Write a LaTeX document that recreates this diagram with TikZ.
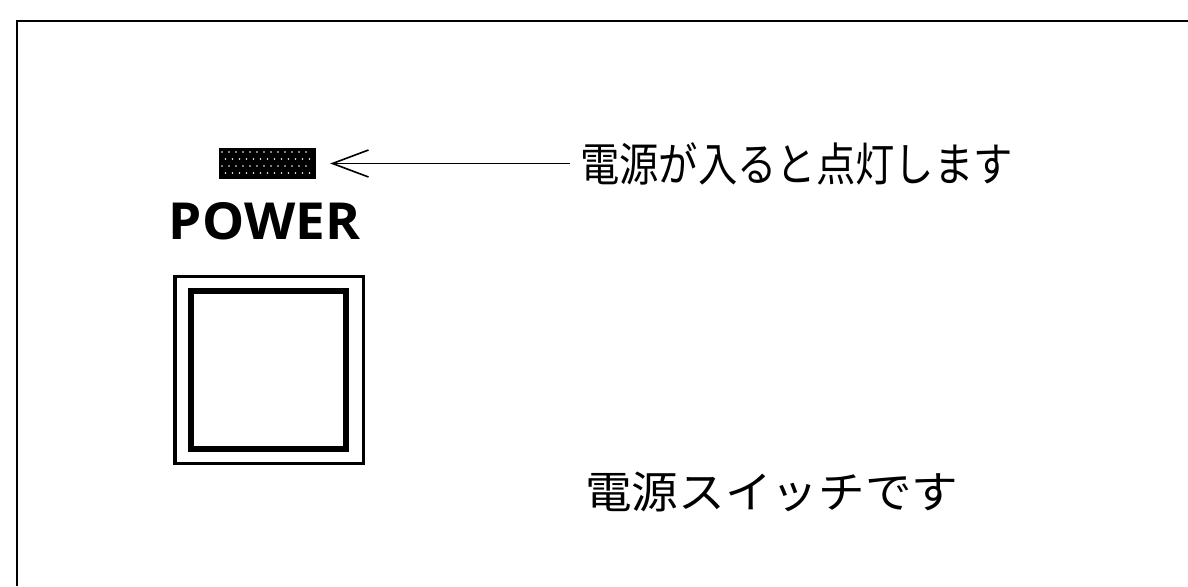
\documentclass[tikz,border=0pt]{standalone}
\usepackage{fontspec}
\newfontfamily\jp{Noto Sans CJK JP}
\newfontfamily\powerfont{Open Sans}
\usetikzlibrary{arrows.meta}
\begin{document}
\begin{tikzpicture}[x=1pt,y=-1pt,
  frame/.style={line width=2.5pt},
  jptext/.style={inner sep=0pt, anchor=base west, font=\jp},
  ledbox/.style={fill=black, minimum width=97pt, minimum height=31pt, inner sep=0pt},
  ledspeck/.style={fill=white},
  pointer/.style={line width=1.6pt, -{Straight Barb[length=36pt,width=27pt]}},
  switchouter/.style={draw, line width=3.5pt, minimum width=188.5pt, minimum height=187pt, inner sep=0pt},
  switchinner/.style={draw, line width=6pt, minimum width=155pt, minimum height=157.7pt, inner sep=0pt}]
\useasboundingbox (0,0) rectangle (1188,586);
% frame
\draw[frame] (17,586) -- (17,21) -- (1188,21);
% LED
\node[ledbox] (led) at (267.5,163.5) {};
\foreach \i in {0,...,12}
  \foreach \j in {0,...,3}
    \fill[ledspeck] ({222+\i*7+mod(\j,2)*3.5},{152+\j*7}) circle (0.9pt);
% label POWER
\node[inner sep=0pt] (power) at (264.5,221.5) {\resizebox{191pt}{37pt}{\powerfont\bfseries POWER}};
% switch
\node[switchouter] (sw) at (269.25,370) {};
\node[switchinner] (swin) at (268,370.2) {};
% texts
\node[jptext] (t1) at (580,181) {\scalebox{0.855}[1]{\fontsize{46pt}{46pt}\selectfont 電源が入ると点灯します}};
\node[jptext] (t2) at (585,508) {\scalebox{1.06}[1]{\fontsize{44pt}{44pt}\selectfont 電源スイッチです}};
% arrow
\coordinate (a1) at (570,163.5);
\draw[pointer, shorten >=14pt] (a1) -- (led.east);
\end{tikzpicture}
\end{document}
